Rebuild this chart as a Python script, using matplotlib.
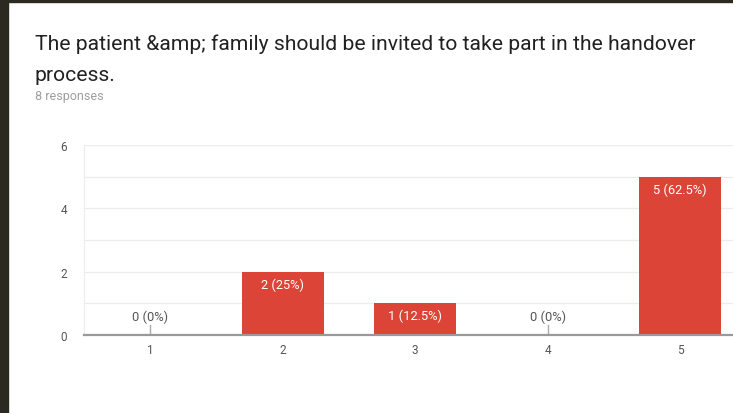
import matplotlib
matplotlib.use("Agg")
import matplotlib.pyplot as plt
from matplotlib.patches import Rectangle

plt.rcParams["font.family"] = ["Roboto", "DejaVu Sans"]

# data
categories = ["1", "2", "3", "4", "5"]
counts = [0, 2, 1, 0, 5]
percents = ["0%", "25%", "12.5%", "0%", "62.5%"]
y_ticks = [0, 2, 4, 6]

bar_color = "#db4437"

fig = plt.figure(figsize=(7.33, 4.14), dpi=100)
fig.patch.set_facecolor("white")

# dark frame of the screenshot
fig.patches.append(Rectangle((0, 0), 8 / 733, 1, transform=fig.transFigure,
                             color="#2c2a20", zorder=-1))
fig.patches.append(Rectangle((0, 1 - 3 / 414), 1, 3 / 414, transform=fig.transFigure,
                             color="#2c2a20", zorder=-1))

fig.text(35 / 733, 1 - 50 / 414, "The patient &amp; family should be invited to take part in the handover",
         fontsize=15.2, color="#212121", va="baseline")
fig.text(35 / 733, 1 - 81 / 414, "process.", fontsize=15.2, color="#212121", va="baseline")
fig.text(35 / 733, 1 - 100 / 414, "8 responses", fontsize=9, color="#9e9e9e", va="baseline")

ax = fig.add_axes([84 / 733, 78 / 414, 662.5 / 733, 190 / 414])
x = list(range(len(categories)))
ax.bar(x, counts, width=0.62, color=bar_color, zorder=3)

ax.set_xlim(-0.5, len(categories) - 0.5)
ax.set_ylim(0, 6)
ax.set_yticks(y_ticks)
ax.set_yticks([1, 3, 5], minor=True)
ax.set_xticks(x)
ax.set_xticklabels(categories)
ax.tick_params(axis="both", length=0, labelsize=8.5, labelcolor="#555555")
ax.tick_params(axis="y", which="minor", length=0)
ax.tick_params(axis="y", pad=12)
ax.tick_params(axis="x", pad=6)
ax.grid(axis="y", which="both", color="#ececec", linewidth=0.9, zorder=0)

for side in ["top", "right"]:
    ax.spines[side].set_visible(False)
ax.spines["left"].set_color("#ececec")
ax.spines["bottom"].set_color("#999999")
ax.spines["bottom"].set_linewidth(1.6)
ax.spines["bottom"].set_zorder(4)

for i, (c, p) in enumerate(zip(counts, percents)):
    label = "{} ({})".format(c, p)
    if c > 0:
        ax.annotate(label, (i, c), xytext=(0, -4), textcoords="offset points",
                    ha="center", va="top", color="white", fontsize=9.3, zorder=5)
    else:
        ax.plot([i, i], [0, 0.33], color="#aaaaaa", linewidth=1, zorder=4)
        ax.annotate(label, (i, 0.33), xytext=(0, 1), textcoords="offset points",
                    ha="center", va="bottom", color="#555555", fontsize=9.3, zorder=5)

plt.savefig("out.png", dpi=100)
plt.close()
